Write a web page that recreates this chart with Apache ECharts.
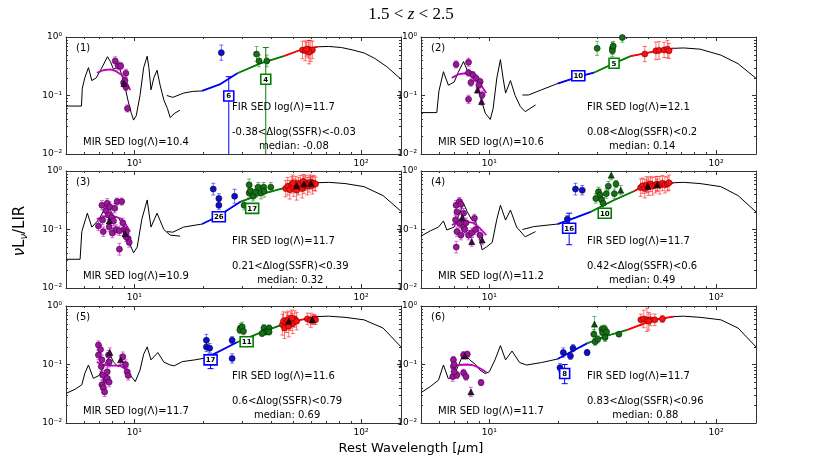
<!DOCTYPE html>
<html><head><meta charset="utf-8">
<script src="https://cdn.jsdelivr.net/npm/echarts@6/dist/echarts.min.js"></script>
<style>html,body{margin:0;padding:0;background:#fff}#c{width:822px;height:466px}</style>
</head><body><div id="c"></div><script>
// ---------------- DATA ----------------
const titleText = '1.5<z<2.5';
const panelLabels = ['(1)','(2)','(3)','(4)','(5)','(6)'];
const mirLambda = ['10.4','10.6','10.9','11.2','11.7','11.7'];
const firLambda = ['11.7','12.1','11.7','11.7','11.6','11.7'];
const ssfrRange = ['-0.38<\u0394log(SSFR)<-0.03','0.08<\u0394log(SSFR)<0.2','0.21<\u0394log(SSFR)<0.39','0.42<\u0394log(SSFR)<0.6','0.6<\u0394log(SSFR)<0.79','0.83<\u0394log(SSFR)<0.96'];
const ssfrMedian = ['-0.08','0.14','0.32','0.49','0.69','0.88'];
const xMinorTicks = [6,7,8,9,20,30,40,50,60,70,80,90];
const yMinorTicks = [0.02,0.03,0.04,0.05,0.06,0.07,0.08,0.09,0.2,0.3,0.4,0.5,0.6,0.7,0.8,0.9];

// black MIR template SED [lambda, nuLnu/LIR]
const mirSed = [
 [[5,0.066],[5.85,0.066],[5.9,0.133],[6.05,0.2],[6.28,0.30],[6.5,0.18],[6.8,0.2],[7.2,0.3],[7.62,0.46],[7.85,0.38],[8.1,0.28],[8.35,0.3],[8.6,0.3],[9.0,0.17],[9.4,0.08],[9.7,0.05],[9.93,0.038],[10.2,0.045],[10.6,0.1],[11.0,0.3],[11.4,0.47],[11.6,0.3],[11.85,0.125],[12.2,0.2],[12.6,0.27],[13.0,0.15],[13.5,0.084],[14.0,0.06],[14.4,0.042],[15.1,0.05],[15.9,0.056]],
 [[5,0.051],[5.87,0.051],[6.0,0.12],[6.28,0.255],[6.6,0.15],[7.0,0.17],[7.3,0.25],[7.7,0.38],[8.1,0.24],[8.4,0.26],[8.8,0.2],[9.1,0.1],[9.6,0.05],[10.1,0.039],[10.4,0.06],[10.8,0.2],[11.2,0.41],[11.5,0.2],[11.8,0.11],[12.4,0.18],[13.0,0.1],[13.7,0.065],[14.4,0.053],[16,0.069]],
 [[5,0.031],[5.77,0.031],[5.87,0.092],[6.21,0.19],[6.5,0.11],[7.0,0.15],[7.62,0.28],[8.1,0.165],[8.5,0.16],[9.0,0.11],[9.5,0.06],[9.93,0.04],[10.3,0.05],[10.8,0.15],[11.4,0.32],[11.85,0.11],[12.6,0.19],[13.5,0.1],[14.4,0.08],[15.9,0.077]],
 [[5,0.077],[5.5,0.095],[5.97,0.11],[6.28,0.14],[6.5,0.098],[7.0,0.11],[7.7,0.28],[8.0,0.2],[8.37,0.146],[8.7,0.14],[9.0,0.08],[9.3,0.045],[9.7,0.05],[10.3,0.06],[10.8,0.15],[11.2,0.26],[11.8,0.145],[12.4,0.215],[13.2,0.11],[14.4,0.075],[16,0.092]],
 [[5,0.032],[5.5,0.038],[5.87,0.045],[6.05,0.07],[6.28,0.098],[6.6,0.058],[7.0,0.065],[7.4,0.1],[7.83,0.145],[8.1,0.11],[8.5,0.092],[8.9,0.1],[9.6,0.066],[10.1,0.051],[10.6,0.08],[11.0,0.15],[11.4,0.2],[11.85,0.12],[12.7,0.16],[13.5,0.11],[14.4,0.098],[15,0.095]],
 [[5,0.033],[5.5,0.042],[5.97,0.054],[6.28,0.098],[6.6,0.057],[7.0,0.065],[7.7,0.155],[8.2,0.12],[8.7,0.1],[9.1,0.08],[9.6,0.07],[10.0,0.075],[10.6,0.12],[11.2,0.21],[11.8,0.12],[12.6,0.17],[13.6,0.108],[14.6,0.098]]
];
// black FIR template SED
const firSed = [
 [[13.9,0.1],[14.8,0.093],[16.5,0.11],[18,0.117],[19.9,0.12],[24,0.157],[28.5,0.24],[36,0.355],[45.6,0.47],[54,0.6],[64.3,0.68],[72,0.69],[82,0.66],[92,0.6],[103.5,0.53],[115,0.43],[130,0.31],[150,0.19]],
 [[14,0.102],[14.9,0.102],[17,0.125],[20,0.16],[24.8,0.21],[28.9,0.245],[35.5,0.355],[42,0.47],[48,0.52],[55,0.58],[65,0.64],[72,0.65],[85,0.62],[105,0.49],[125,0.35],[150,0.197]],
 [[13.96,0.092],[14.8,0.09],[16.5,0.11],[19.9,0.124],[23.2,0.165],[29.5,0.3],[37,0.41],[45.6,0.51],[54,0.58],[64,0.63],[72,0.64],[85,0.61],[103,0.54],[125,0.38],[150,0.205]],
 [[14,0.1],[15.7,0.112],[20,0.124],[24,0.16],[28,0.2],[35,0.31],[43.4,0.45],[46.5,0.52],[55,0.58],[65,0.63],[72,0.64],[85,0.61],[105,0.54],[125,0.38],[150,0.2]],
 [[15,0.095],[16.3,0.112],[18.5,0.12],[20.8,0.13],[28.4,0.24],[36,0.35],[44.3,0.47],[52,0.56],[64,0.66],[72,0.67],[85,0.64],[103,0.58],[125,0.42],[150,0.2]],
 [[14.6,0.098],[17,0.108],[20,0.124],[27,0.23],[33,0.31],[40.6,0.39],[48,0.5],[56,0.6],[65,0.66],[72,0.67],[85,0.64],[105,0.58],[125,0.42],[150,0.2]]
];
// fitted segments (wavelength ranges along FIR SED)
const blueSeg  = [[19.9,28.5],[20,28.9],[19.9,29.5],[20,28],[20.8,28.4],[20,27]];
const greenSeg = [[28.5,45.6],[28.9,42],[29.5,45.6],[28,43.4],[28.4,44.3],[27,40.6]];
const redSeg   = [[45.6,64.3],[42,65],[45.6,64],[43.4,65],[44.3,64],[40.6,65]];
// MIR fit curve (magenta)
const mirFit = [
 [[6.84,0.245],[7.3,0.27],[7.83,0.28],[8.3,0.26],[8.8,0.224],[9.2,0.17],[9.6,0.124]],
 [[6.84,0.2],[7.3,0.23],[7.83,0.24],[8.3,0.235],[8.67,0.21],[9.2,0.15],[9.7,0.11]],
 [[6.84,0.15],[7.3,0.165],[7.83,0.17],[8.3,0.165],[8.8,0.15],[9.2,0.12],[9.6,0.092]],
 [[6.84,0.12],[7.5,0.136],[8.0,0.135],[8.5,0.13],[9.1,0.105],[9.7,0.08]],
 [[6.84,0.112],[7.1,0.1],[7.4,0.098],[8.0,0.096],[8.6,0.096],[9.1,0.085],[9.6,0.075]],
 [[6.84,0.092],[7.3,0.098],[7.9,0.1],[8.4,0.098],[8.8,0.092],[9.3,0.082],[9.7,0.074]]
];
// data points [lambda, value, error (dex)]
const magPts = [
 [[8.24,0.39,0.07],[8.5,0.32,0.07],[8.72,0.32,0.06],[9.18,0.24,0.07],[8.97,0.165,0.06],[9.1,0.18,0.06],[9.18,0.14,0.06],[9.33,0.06,0.06]],
 [[7.14,0.34,0.06],[8.1,0.37,0.07],[8.1,0.245,0.06],[8.1,0.086,0.07],[8.3,0.166,0.06],[8.47,0.224,0.06],[8.75,0.196,0.06],[9.12,0.172,0.06],[9.0,0.151,0.06],[9.3,0.102,0.07]],
 [[6.95,0.115,0.08],[7.2,0.26,0.08],[7.25,0.145,0.08],[7.3,0.092,0.08],[7.5,0.21,0.08],[7.6,0.28,0.08],[7.7,0.177,0.08],[7.75,0.11,0.08],[7.8,0.245,0.08],[7.96,0.16,0.08],[8.0,0.087,0.08],[8.1,0.14,0.08],[8.2,0.23,0.08],[8.3,0.1,0.08],[8.4,0.3,0.06],[8.6,0.095,0.08],[8.6,0.046,0.1],[8.8,0.3,0.06],[8.9,0.13,0.08],[9.05,0.1,0.08],[9.2,0.09,0.08],[9.4,0.07,0.08],[9.5,0.06,0.08],[9.2,0.075,0.08]],
 [[7.14,0.26,0.08],[7.38,0.3,0.07],[7.5,0.27,0.07],[7.2,0.2,0.08],[7.7,0.19,0.08],[7.1,0.146,0.08],[7.4,0.127,0.08],[7.7,0.11,0.08],[7.9,0.13,0.08],[7.2,0.092,0.08],[7.5,0.08,0.08],[7.8,0.1,0.08],[8.1,0.08,0.08],[8.37,0.088,0.08],[8.6,0.155,0.07],[8.7,0.1,0.08],[9.1,0.08,0.08],[7.15,0.05,0.1]],
 [[6.95,0.215,0.07],[6.95,0.145,0.08],[7.1,0.18,0.07],[7.15,0.092,0.08],[7.2,0.12,0.08],[7.25,0.066,0.08],[7.2,0.045,0.08],[7.3,0.04,0.08],[7.4,0.034,0.08],[7.5,0.054,0.08],[7.6,0.075,0.08],[7.7,0.145,0.08],[7.75,0.11,0.08],[7.6,0.058,0.08],[7.75,0.05,0.08],[8.9,0.136,0.08],[9.15,0.1,0.08],[9.3,0.075,0.08],[9.4,0.065,0.08]],
 [[6.95,0.12,0.06],[6.95,0.092,0.07],[7.0,0.1,0.06],[6.9,0.062,0.08],[7.2,0.066,0.06],[7.7,0.145,0.06],[8.0,0.15,0.05],[7.7,0.072,0.06],[7.9,0.062,0.06],[9.2,0.049,0.05],[7.0,0.075,0.06]]
];
const magTri = [
 [[9.0,0.16,0.05]],
 [[8.87,0.124,0.05],[9.25,0.079,0.06]],
 [[7.75,0.14,0.08],[9.1,0.085,0.08]],
 [[8.37,0.062,0.08],[9.3,0.066,0.08],[7.6,0.16,0.08]],
 [[7.8,0.16,0.08],[8.7,0.12,0.08]],
 [[7.8,0.14,0.05],[8.3,0.034,0.08]]
];
const bluePts = [
 [[24.2,0.54,0.13]],
 [],
 [[22.3,0.49,0.1],[23.6,0.34,0.08],[23.6,0.26,0.07],[27.7,0.37,0.12]],
 [[22.1,0.15,0.06],[24,0.49,0.1],[25.7,0.47,0.08]],
 [[20.8,0.26,0.1],[20.8,0.2,0.08],[21.5,0.19,0.08],[27,0.26,0.06],[27,0.127,0.08]],
 [[20.5,0.088,0.07],[21.2,0.16,0.08],[22.8,0.14,0.06],[23.4,0.19,0.06],[27,0.16,0.05]]
];
const greenPts = [
 [[34.6,0.51,0.13],[35.5,0.39,0.1],[38.4,0.39,0.1]],
 [[29.9,0.64,0.12],[34.9,0.64,0.1],[34.9,0.58,0.1],[35.2,0.7,0.08],[38.6,0.98,0.08]],
 [[30.5,0.26,0.08],[32.1,0.58,0.1],[32.1,0.42,0.08],[32.5,0.46,0.08],[33.4,0.37,0.08],[34.3,0.44,0.1],[35.2,0.53,0.08],[36.2,0.42,0.1],[37.2,0.53,0.08],[37.4,0.45,0.1],[40,0.53,0.08]],
 [[29.5,0.34,0.08],[30.3,0.44,0.08],[30.8,0.39,0.1],[31.3,0.32,0.08],[31.8,0.28,0.1],[32.8,0.41,0.08],[33.5,0.55,0.08],[35.6,0.41,0.08],[36.2,0.6,0.06]],
 [[29.4,0.42,0.08],[29.2,0.39,0.06],[29.9,0.44,0.08],[30.3,0.37,0.06],[37.3,0.42,0.06],[37.8,0.36,0.05],[38.5,0.37,0.05],[39.3,0.42,0.05],[39.3,0.36,0.05],[36.6,0.34,0.05]],
 [[28.9,0.33,0.08],[29.3,0.245,0.06],[30.1,0.27,0.06],[31.4,0.4,0.06],[31.6,0.35,0.06],[32.2,0.41,0.06],[32.4,0.29,0.07],[32.9,0.36,0.05],[37.3,0.33,0.04]]
];
const greenTri = [
 [], [], [], [[34.5,0.85,0.08],[38,0.47,0.08]], [], [[29.1,0.49,0.13]]
];
const redPts = [
 [[55.2,0.6,0.15],[56.8,0.58,0.17],[58.5,0.62,0.15],[60,0.58,0.18],[61,0.6,0.15],[59,0.55,0.2],[57.5,0.62,0.12]],
 [[48.5,0.51,0.13],[54.3,0.58,0.15],[56,0.59,0.15],[59,0.6,0.13],[61,0.62,0.15],[62,0.58,0.13]],
 [[46.5,0.5,0.14],[47.5,0.55,0.15],[48.5,0.48,0.16],[49.5,0.58,0.14],[50.5,0.52,0.15],[51.5,0.6,0.13],[52,0.47,0.17],[53,0.55,0.15],[54,0.62,0.13],[55,0.5,0.16],[56,0.58,0.15],[57,0.63,0.13],[58,0.55,0.15],[59,0.6,0.14],[60,0.65,0.12],[61,0.57,0.15],[62,0.62,0.13],[63,0.6,0.12],[50,0.62,0.14],[55.5,0.66,0.12]],
 [[46.5,0.52,0.15],[47.5,0.56,0.13],[48.5,0.5,0.16],[49.5,0.58,0.14],[50.5,0.54,0.15],[51.5,0.6,0.13],[52.5,0.55,0.15],[54,0.58,0.14],[55,0.6,0.13],[56.5,0.57,0.15],[58,0.62,0.13],[59.5,0.58,0.14],[61,0.6,0.12],[62,0.63,0.13]],
 [[45,0.48,0.18],[45.5,0.55,0.16],[46,0.42,0.18],[47,0.52,0.17],[47.5,0.58,0.15],[48,0.45,0.18],[49,0.55,0.16],[50,0.5,0.17],[51,0.6,0.14],[52,0.55,0.15],[49.5,0.62,0.14],[58,0.6,0.1],[60,0.57,0.12],[62,0.6,0.08],[63,0.58,0.08]],
 [[46.6,0.58,0.1],[48,0.6,0.15],[49.6,0.58,0.2],[51.4,0.58,0.1],[53.7,0.58,0.1],[58,0.6,0.06],[50.5,0.55,0.15]]
];
const redTri = [
 [], [], [[52,0.56,0.1],[56,0.6,0.1],[60,0.62,0.1]], [[50,0.55,0.1],[55,0.58,0.1]], [[48,0.55,0.1],[61,0.58,0.08]], []
];
// stacked boxes [lambda, value, errLow, errHigh, count]
const blueBox = [
 [26.1,0.098,0.003,0.21,'6'],
 [24.7,0.218,0.185,0.255,'10'],
 [23.6,0.165,0.15,0.18,'26'],
 [22.5,0.105,0.055,0.19,'16'],
 [21.7,0.12,0.085,0.15,'17'],
 [21.5,0.07,0.047,0.1,'8']
];
const greenBox = [
 [38,0.19,0.003,0.66,'4'],
 [35.5,0.355,0.3,0.41,'5'],
 [33.1,0.23,0.2,0.26,'17'],
 [32.3,0.19,0.17,0.21,'10'],
 [31.3,0.245,0.22,0.27,'11'],
 null
];

// ---------------- LAYOUT / STYLE ----------------
const gridLeft = [66, 421], gridTop = [37, 171, 306], gridW = 335, gridH = 117;
const FONT = '"DejaVu Sans", sans-serif';
const SUP = {'0':'\u2070','1':'\u00b9','2':'\u00b2','-':'\u207b'};
function powLabel(v){
  const l = Math.log10(v), e = Math.round(l);
  if (Math.abs(l - e) > 1e-6) return '';
  return '10' + String(e).split('').map(c => SUP[c]).join('');
}
const frame = '#333';

function errRender(color, cap){
  return function(params, api){
    const x = api.value(0), lo = api.value(1), hi = api.value(2);
    const a = api.coord([x, lo]), b = api.coord([x, hi]);
    const st = {stroke: color, lineWidth: 1};
    return {type:'group', children:[
      {type:'line', shape:{x1:a[0],y1:a[1],x2:b[0],y2:b[1]}, style:st},
      {type:'line', shape:{x1:a[0]-cap,y1:a[1],x2:a[0]+cap,y2:a[1]}, style:st},
      {type:'line', shape:{x1:b[0]-cap,y1:b[1],x2:b[0]+cap,y2:b[1]}, style:st}
    ]};
  };
}
function boxRender(color, box){
  return function(params, api){
    const x = api.value(0), y = api.value(1), lo = api.value(2), hi = api.value(3);
    const c = api.coord([x, y]), a = api.coord([x, lo]), b = api.coord([x, hi]);
    const w = box[4].length > 1 ? 13 : 10, h = 10;
    const st = {stroke: color, lineWidth: 1};
    return {type:'group', children:[
      {type:'line', shape:{x1:a[0],y1:a[1],x2:b[0],y2:b[1]}, style:st},
      {type:'line', shape:{x1:a[0]-3,y1:a[1],x2:a[0]+3,y2:a[1]}, style:st},
      {type:'line', shape:{x1:b[0]-3,y1:b[1],x2:b[0]+3,y2:b[1]}, style:st},
      {type:'rect', shape:{x:c[0]-w/2, y:c[1]-h/2, width:w, height:h}, style:{fill:'#fff', stroke:color, lineWidth:1.6}},
      {type:'text', style:{text: box[4], x:c[0], y:c[1]+0.5, align:'center', verticalAlign:'middle', font:'bold 7px ' + FONT, fill:'#000'}}
    ]};
  };
}
function minorRender(params, api){
  const cs = params.coordSys, ch = [], st = {stroke: frame, lineWidth: 1};
  xMinorTicks.forEach(v => {
    const px = Math.round(api.coord([v, 0.1])[0]) + 0.5;
    ch.push({type:'line', shape:{x1:px,y1:cs.y+cs.height,x2:px,y2:cs.y+cs.height-2}, style:st});
    ch.push({type:'line', shape:{x1:px,y1:cs.y,x2:px,y2:cs.y+2}, style:st});
  });
  yMinorTicks.forEach(v => {
    const py = Math.round(api.coord([10, v])[1]) + 0.5;
    ch.push({type:'line', shape:{x1:cs.x,y1:py,x2:cs.x+2,y2:py}, style:st});
    ch.push({type:'line', shape:{x1:cs.x+cs.width,y1:py,x2:cs.x+cs.width-2,y2:py}, style:st});
  });
  return {type:'group', children: ch};
}

const grids = [], xAxes = [], yAxes = [], series = [], graphics = [];
const measure = document.createElement('canvas').getContext('2d');
measure.font = '10px "DejaVu Sans"';

for (let i = 0; i < 6; i++) {
  const col = i % 2, row = Math.floor(i / 2);
  const L = gridLeft[col], T = gridTop[row];
  grids.push({left: L, top: T, width: gridW, height: gridH, show: false});
  const axCommon = {type:'log', logBase:10, gridIndex:i, splitLine:{show:false}, minorTick:{show:false},
    axisLine:{show:true, lineStyle:{color:frame, width:1}},
    axisTick:{show:true, inside:true, length:4, lineStyle:{color:frame}}};
  xAxes.push(Object.assign({}, axCommon, {position:'bottom', min:5, max:150,
    axisLabel:{show:true, formatter: powLabel, fontSize:9, fontFamily:FONT, color:'#000', margin:5, showMinLabel:true, showMaxLabel:true}}));
  xAxes.push(Object.assign({}, axCommon, {position:'top', min:5, max:150, axisLabel:{show:false}}));
  yAxes.push(Object.assign({}, axCommon, {position:'left', min:0.01, max:1,
    axisLabel:{show:true, formatter: powLabel, fontSize:9, fontFamily:FONT, color:'#000', margin:4}}));
  yAxes.push(Object.assign({}, axCommon, {position:'right', min:0.01, max:1, axisLabel:{show:false}}));

  const xi = 2 * i, yi = 2 * i;
  const base = {xAxisIndex: xi, yAxisIndex: yi, silent: true, animation: false};
  const line = (data, color, width, z) => Object.assign({}, base, {type:'line', data, symbol:'none', showSymbol:false,
    lineStyle:{color, width}, itemStyle:{color}, z, clip:true});
  const inRange = r => firSed[i].filter(p => p[0] >= r[0] - 1e-9 && p[0] <= r[1] + 1e-9);

  series.push(Object.assign({}, base, {type:'custom', data:[[10,0.1]], renderItem: minorRender, z:1, clip:false}));
  series.push(line(mirSed[i], '#000', 1, 2));
  series.push(line(firSed[i], '#000', 1, 2));
  series.push(line(inRange(blueSeg[i]), '#0000ff', 1.8, 3));
  series.push(line(inRange(greenSeg[i]), '#008000', 1.8, 3));
  series.push(line(inRange(redSeg[i]), '#ff0000', 1.8, 3));
  series.push(line(mirFit[i], '#bf00bf', 1.8, 3));

  const groups = [
    [magPts[i], 'circle', '#9a169a', '#3a003a', 'rgba(210,0,210,0.6)'],
    [magTri[i], 'triangle', '#3a0a3a', '#000', 'rgba(210,0,210,0.6)'],
    [bluePts[i], 'circle', '#1010c8', '#000040', 'rgba(0,0,255,0.55)'],
    [greenPts[i], 'circle', '#157015', '#002800', 'rgba(0,128,0,0.55)'],
    [greenTri[i], 'triangle', '#0d4d0d', '#002000', 'rgba(0,128,0,0.55)'],
    [redPts[i], 'circle', '#ff1010', '#700000', 'rgba(255,0,0,0.55)'],
    [redTri[i], 'triangle', '#300000', '#000', 'rgba(255,0,0,0.55)']
  ];
  groups.forEach(g => {
    if (!g[0].length) return;
    series.push(Object.assign({}, base, {type:'custom', z:4, clip:true,
      data: g[0].map(p => [p[0], p[1] / Math.pow(10, p[2]), p[1] * Math.pow(10, p[2])]),
      encode:{x:0, y:[1,2]}, renderItem: errRender(g[4], 2)}));
    series.push(Object.assign({}, base, {type:'scatter', z:5, symbol:g[1], symbolSize: 6,
      data: g[0].map(p => [p[0], p[1]]), itemStyle:{color:g[2], borderColor:g[3], borderWidth:0.6, opacity:1}}));
  });
  [[blueBox[i], '#0000ff'], [greenBox[i], '#008000']].forEach(b => {
    if (!b[0]) return;
    series.push(Object.assign({}, base, {type:'custom', z:6, clip:true,
      data:[[b[0][0], b[0][1], b[0][2], b[0][3]]], encode:{x:0, y:[1,2,3]}, renderItem: boxRender(b[1], b[0])}));
  });

  // texts
  const txt = (text, x, y, align) => ({type:'text', x, y, silent:true, z:10,
    style:{text, font:'10px ' + FONT, fill:'#000', align: align || 'left', verticalAlign:'middle'}});
  graphics.push(txt(panelLabels[i], L + 10, T + 11));
  graphics.push(txt('MIR SED log(\u039b)=' + mirLambda[i], L + 17, T + 105));
  graphics.push(txt('FIR SED log(\u039b)=' + firLambda[i], L + 166, T + 70));
  const w = measure.measureText(ssfrRange[i]).width;
  graphics.push(txt(ssfrRange[i], L + 166, T + 95.5));
  graphics.push(txt('median: ' + ssfrMedian[i], L + 166 + w / 2, T + 109, 'center'));
}

graphics.push({type:'text', x:411, y:15, silent:true,
  style:{text:'{n|1.5}{o| < }{i|z}{o| < }{n|2.5}', align:'center', verticalAlign:'middle',
    rich:{n:{font:'17px "Liberation Serif", serif', fill:'#000'}, o:{font:'17px "Liberation Serif", serif', fill:'#000'}, i:{font:'italic 17px "Liberation Serif", serif', fill:'#000'}}}});
graphics.push({type:'text', x:411, y:449, silent:true,
  style:{text:'Rest Wavelength [{i|\u03bc}m]', align:'center', verticalAlign:'middle', font:'13px ' + FONT, fill:'#000',
    rich:{i:{font:'italic 13px ' + FONT, fill:'#000'}}}});
graphics.push({type:'text', x:20, y:231, rotation: Math.PI / 2, silent:true,
  style:{text:'{i|\u03bd}{n|L}{s|\u03bd}{n|/LIR}', align:'center', verticalAlign:'middle',
    rich:{i:{font:'italic 15px ' + FONT, fill:'#000', lineHeight:20}, n:{font:'15px ' + FONT, fill:'#000', lineHeight:20},
      s:{font:'italic 10px ' + FONT, fill:'#000', lineHeight:20, padding:[8,0,0,0]}}}});

const chart = echarts.init(document.getElementById('c'), null, {renderer:'canvas'});
chart.setOption({animation:false, backgroundColor:'#fff', grid:grids, xAxis:xAxes, yAxis:yAxes, series, graphic: graphics});
</script></body></html>
